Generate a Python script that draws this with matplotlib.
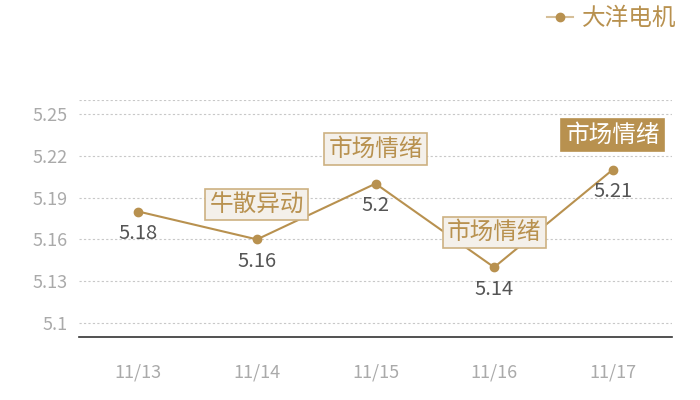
import matplotlib
matplotlib.use('Agg')
import matplotlib.pyplot as plt

plt.rcParams['font.family'] = ['Noto Sans CJK SC', 'DejaVu Sans']

dates = ['11/13', '11/14', '11/15', '11/16', '11/17']
prices = [5.18, 5.16, 5.2, 5.14, 5.21]
value_labels = ['5.18', '5.16', '5.2', '5.14', '5.21']
tags = [None, '牛散异动', '市场情绪', '市场情绪', '市场情绪']
series_name = '大洋电机'
yticks = [5.1, 5.13, 5.16, 5.19, 5.22, 5.25]

gold = '#b8914f'

fig = plt.figure(figsize=(7, 4), dpi=100)
ax = fig.add_axes([0.113, 0.1575, 0.847, 0.5925])

x = list(range(len(dates)))
ax.plot(x, prices, color=gold, lw=1.5, marker='o', ms=6, label=series_name, zorder=3)

ax.set_xlim(-0.5, len(dates) - 0.5)
ax.set_ylim(5.09, 5.26)
ax.set_yticks(yticks)
ax.set_yticklabels([f'{v:g}' for v in yticks])
ax.set_xticks(x)
ax.set_xticklabels(dates)

for v in yticks + [5.26]:
    ax.axhline(v, color='#c8c8c8', lw=0.8, ls=(0, (2, 2)), zorder=0)

for s in ['top', 'right', 'left']:
    ax.spines[s].set_visible(False)
ax.spines['bottom'].set_color('#333333')
ax.spines['bottom'].set_linewidth(1.2)

ax.tick_params(axis='both', length=0, colors='#aaaaaa', labelsize=13)
ax.tick_params(axis='x', pad=19)
ax.tick_params(axis='y', pad=8)

for i, (p, lab) in enumerate(zip(prices, value_labels)):
    ax.annotate(lab, (i, p), xytext=(0, -16), textcoords='offset points',
                ha='center', va='center', fontsize=14.5, color='#555555', zorder=4)

for i, (p, t) in enumerate(zip(prices, tags)):
    if t is None:
        continue
    last = i == len(tags) - 1
    ax.annotate(t, (i, p), xytext=(0, 25), textcoords='offset points',
                ha='center', va='center', fontsize=17,
                color='white' if last else gold, zorder=5,
                bbox=dict(boxstyle='square,pad=0.18',
                          fc=gold if last else '#f4f0ea',
                          ec=gold if last else '#cdb182', lw=1.2))

leg = fig.legend(loc='upper right', bbox_to_anchor=(0.997, 1.035), frameon=False,
                 fontsize=17, handlelength=1.1, handletextpad=0.4)
for t in leg.get_texts():
    t.set_color(gold)
leg.get_lines()[0].set_color('#d6bf98')
leg.get_lines()[0].set_markerfacecolor(gold)
leg.get_lines()[0].set_markeredgecolor(gold)

fig.savefig('out.png', dpi=100)
